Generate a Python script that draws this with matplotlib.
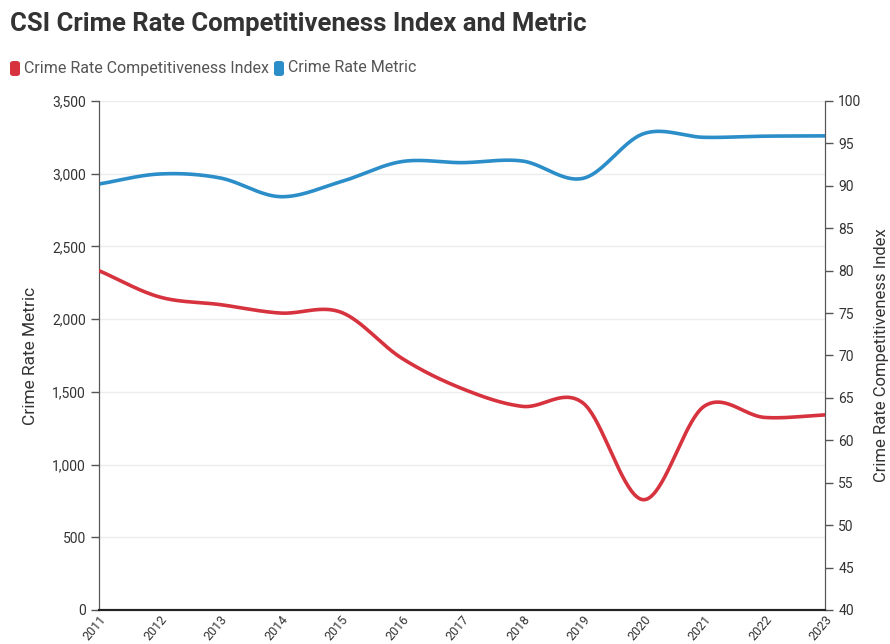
import numpy as np
import matplotlib.pyplot as plt
from matplotlib.patches import FancyBboxPatch
from matplotlib.ticker import FuncFormatter, MultipleLocator

plt.rcParams['font.family'] = ['Roboto', 'DejaVu Sans']

years = [2011, 2012, 2013, 2014, 2015, 2016, 2017, 2018, 2019, 2020, 2021, 2022, 2023]
crime_metric = [2929, 2998, 2971, 2842, 2945, 3083, 3076, 3087, 2968, 3275, 3250, 3258, 3260]
crime_index = [80.0, 76.9, 76.0, 75.0, 75.1, 69.7, 66.1, 64.0, 64.4, 53.0, 64.0, 62.7, 63.0]

RED = '#d7333f'
BLUE = '#2c8ec9'


def smooth(x, y, n=40):
    # catmull-rom through the points, like the spline in the original
    x = np.asarray(x, float)
    y = np.asarray(y, float)
    m = np.zeros_like(y)
    m[1:-1] = (y[2:] - y[:-2]) / (x[2:] - x[:-2])
    m[0] = (y[1] - y[0]) / (x[1] - x[0])
    m[-1] = (y[-1] - y[-2]) / (x[-1] - x[-2])
    xs, ys = [], []
    for i in range(len(x) - 1):
        h = x[i + 1] - x[i]
        t = np.linspace(0, 1, n, endpoint=False)
        h00 = 2 * t**3 - 3 * t**2 + 1
        h10 = t**3 - 2 * t**2 + t
        h01 = -2 * t**3 + 3 * t**2
        h11 = t**3 - t**2
        xs.append(x[i] + t * h)
        ys.append(h00 * y[i] + h10 * h * m[i] + h01 * y[i + 1] + h11 * h * m[i + 1])
    xs.append([x[-1]])
    ys.append([y[-1]])
    return np.concatenate(xs), np.concatenate(ys)


fig = plt.figure(figsize=(8.9, 6.44), dpi=100)
ax = fig.add_axes([0.1112, 0.0528, 0.8158, 0.7904])
ax2 = ax.twinx()

sx, sy = smooth(years, crime_metric)
ax.plot(sx, sy, color=BLUE, lw=2.6, solid_capstyle='round', zorder=3)
sx, sy = smooth(years, crime_index)
ax2.plot(sx, sy, color=RED, lw=2.6, solid_capstyle='round', zorder=3)

ax.set_xlim(2011, 2023)
ax.set_ylim(0, 3500)
ax2.set_ylim(40, 100)
ax.yaxis.set_major_locator(MultipleLocator(500))
ax2.yaxis.set_major_locator(MultipleLocator(5))
ax.yaxis.set_major_formatter(FuncFormatter(lambda v, p: f'{int(v):,}'))
ax.set_xticks(years)
ax.set_xticklabels([str(y) for y in years], rotation=50, ha='right',
                   rotation_mode='anchor')

ax.grid(axis='y', color='#ececec', lw=1)
ax.set_axisbelow(True)

for a in (ax, ax2):
    a.spines['top'].set_visible(False)
    a.spines['left'].set_color('#555555')
    a.spines['right'].set_color('#555555')
    a.spines['bottom'].set_color('#222222')
    a.spines['bottom'].set_linewidth(1.5)
    a.tick_params(colors='#555555', labelcolor='#333333', labelsize=10,
                  length=6, width=1)
ax.tick_params(axis='x', length=0, pad=2, labelsize=9)

ax.set_ylabel('Crime Rate Metric', fontsize=12.5, color='#333333', labelpad=10)
ax2.set_ylabel('Crime Rate Competitiveness Index', fontsize=12,
               color='#333333', labelpad=9)

fig.text(0.011, 0.962, 'CSI Crime Rate Competitiveness Index and Metric',
         fontsize=18.5, fontweight='bold', color='#333333', va='center')

# legend
legend_items = [('Crime Rate Competitiveness Index', RED, 10),
                ('Crime Rate Metric', BLUE, 274)]
for label, color, px in legend_items:
    fig.patches.append(FancyBboxPatch((px / 890, 1 - 76 / 644), 10 / 890, 15 / 644,
                                      boxstyle='round,pad=0,rounding_size=0.004',
                                      transform=fig.transFigure, fc=color,
                                      ec='none'))
    fig.text((px + 14) / 890, 1 - 68 / 644, label, fontsize=11.5,
             color='#555555', va='center')

fig.savefig('out.png', dpi=100)
